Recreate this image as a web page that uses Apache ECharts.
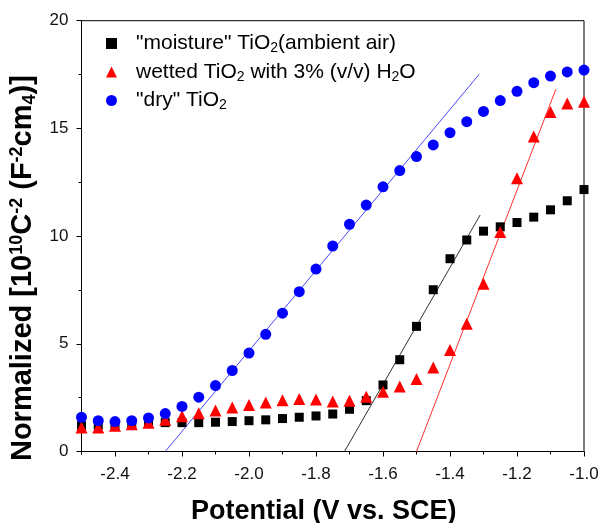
<!DOCTYPE html>
<html>
<head>
<meta charset="utf-8">
<script src="https://cdn.jsdelivr.net/npm/echarts@6/dist/echarts.min.js"></script>
<style>
  html, body { margin: 0; padding: 0; background: #fff; }
  #chart { width: 601px; height: 523px; }
</style>
</head>
<body>
<div id="chart"></div>
<script>
// potential (V vs. SCE)
var potential = [-2.50, -2.45, -2.40, -2.35, -2.30, -2.25, -2.20, -2.15, -2.10, -2.05, -2.00,
                 -1.95, -1.90, -1.85, -1.80, -1.75, -1.70, -1.65, -1.60, -1.55, -1.50,
                 -1.45, -1.40, -1.35, -1.30, -1.25, -1.20, -1.15, -1.10, -1.05, -1.00];

// normalized 1/C^2 for each sample
var moisture = [1.20, 1.22, 1.25, 1.28, 1.31, 1.34, 1.34, 1.34, 1.36, 1.39, 1.43,
                1.47, 1.53, 1.59, 1.65, 1.74, 1.96, 2.36, 3.09, 4.26, 5.81,
                7.51, 8.95, 9.82, 10.23, 10.43, 10.63, 10.88, 11.22, 11.64, 12.16];
var wetted = [1.11, 1.12, 1.19, 1.26, 1.34, 1.47, 1.64, 1.78, 1.90, 2.04, 2.16,
              2.27, 2.38, 2.44, 2.41, 2.32, 2.36, 2.54, 2.77, 3.02, 3.37,
              3.90, 4.71, 5.93, 7.79, 10.19, 12.68, 14.62, 15.76, 16.16, 16.24];
var dry = [1.59, 1.43, 1.39, 1.43, 1.56, 1.76, 2.09, 2.52, 3.06, 3.76, 4.57,
           5.44, 6.42, 7.42, 8.47, 9.54, 10.55, 11.44, 12.29, 13.04, 13.69,
           14.23, 14.80, 15.31, 15.79, 16.29, 16.72, 17.12, 17.43, 17.62, 17.71];

// linear fits (end points)
var moistureFitX = [-1.715, -1.31];
var moistureFitY = [0, 10.98];
var wettedFitX = [-1.50, -1.084];
var wettedFitY = [0, 16.82];
var dryFitX = [-2.25, -1.313];
var dryFitY = [0, 17.51];

var xLabels = [-2.4, -2.2, -2.0, -1.8, -1.6, -1.4, -1.2, -1.0];
var xMinor = [-2.5, -2.3, -2.1, -1.9, -1.7, -1.5, -1.3, -1.1];

var font = 'Liberation Sans, Arial, sans-serif';

function pairs(xs, ys) {
    return xs.map(function (x, i) { return [x, ys[i]]; });
}

var legendNames = {
    moisture: '"moisture" TiO{sub|2}(ambient air)',
    wetted: 'wetted TiO{sub|2} with 3% (v/v) H{sub|2}O',
    dry: '"dry" TiO{sub|2}'
};

var chart = echarts.init(document.getElementById('chart'));

var option = {
    animation: false,
    backgroundColor: '#fff',
    textStyle: { fontFamily: font },
    grid: {
        left: 81.5, right: 17, top: 20.7, bottom: 71.5,
        outerBoundsMode: 'none', containLabel: false,
        show: true, borderColor: '#000', borderWidth: 1
    },
    legend: {
        orient: 'vertical',
        left: 101, top: 27,
        itemWidth: 11, itemHeight: 11, itemGap: 5,
        data: [
            { name: 'moisture', itemStyle: { opacity: 1 } },
            { name: 'wetted', itemStyle: { opacity: 1 } },
            { name: 'dry', itemStyle: { opacity: 1 } }
        ],
        formatter: function (n) { return legendNames[n]; },
        textStyle: {
            fontFamily: font, fontSize: 21, color: '#000', lineHeight: 23,
            padding: [0, 0, 0, 14],
            rich: { sub: { fontFamily: font, fontSize: 14, color: '#000', padding: [10, 0, 0, 0] } }
        }
    },
    xAxis: [{
        type: 'value', min: -2.5, max: -1.0,
        name: 'Potential (V vs. SCE)', nameLocation: 'middle', nameGap: 47,
        nameTextStyle: { fontFamily: font, fontSize: 27, fontWeight: 'bold', color: '#000', padding: [0, 18, 0, 0] },
        axisLine: { lineStyle: { color: '#000', width: 1 } },
        axisTick: { customValues: xLabels, length: 5, lineStyle: { color: '#000' } },
        axisLabel: {
            customValues: xLabels, fontSize: 17, color: '#111', margin: 14,
            formatter: function (v) { return v.toFixed(1); }
        },
        splitLine: { show: false }
    }, {
        type: 'value', min: -2.5, max: -1.0, position: 'bottom',
        axisLine: { show: false },
        axisTick: { customValues: xMinor, length: 3, lineStyle: { color: '#000' } },
        axisLabel: { show: false },
        splitLine: { show: false }
    }],
    yAxis: {
        type: 'value', min: 0, max: 20, interval: 5,
        name: 'Normalized [10{sup|10}C{sup|-2} (F{sup|-2}cm{sub|4})]',
        nameLocation: 'middle', nameGap: 34, nameRotate: 90,
        nameTextStyle: {
            fontFamily: font, fontSize: 29, fontWeight: 'bold', color: '#000',
            padding: [0, 64, 0, 0],
            rich: {
                sup: { fontFamily: font, fontSize: 18, fontWeight: 'bold', color: '#000', padding: [0, 0, 13, 0] },
                sub: { fontFamily: font, fontSize: 18, fontWeight: 'bold', color: '#000', padding: [13, 0, 0, 0] }
            }
        },
        axisLine: { show: true, lineStyle: { color: '#000', width: 1 } },
        axisTick: { show: true, length: 5, lineStyle: { color: '#000' } },
        minorTick: { show: true, splitNumber: 2, length: 3, lineStyle: { color: '#000' } },
        axisLabel: { fontSize: 17, color: '#111', margin: 13 },
        splitLine: { show: false }
    },
    series: [
        {
            name: 'moisture', type: 'scatter', symbol: 'rect', symbolSize: 9,
            itemStyle: { color: '#000', opacity: 1 }, data: pairs(potential, moisture), z: 3
        },
        {
            name: 'wetted', type: 'scatter', symbol: 'triangle', symbolSize: 12,
            itemStyle: { color: '#ff0000', opacity: 1 }, data: pairs(potential, wetted), z: 4
        },
        {
            name: 'dry', type: 'scatter', symbol: 'circle', symbolSize: 11,
            itemStyle: { color: '#0000ff', opacity: 1 }, data: pairs(potential, dry), z: 5
        },
        {
            name: 'moisture fit', type: 'line', showSymbol: false, silent: true,
            lineStyle: { color: '#333', width: 1 }, data: pairs(moistureFitX, moistureFitY), z: 2
        },
        {
            name: 'wetted fit', type: 'line', showSymbol: false, silent: true,
            lineStyle: { color: '#ff3030', width: 1 }, data: pairs(wettedFitX, wettedFitY), z: 2
        },
        {
            name: 'dry fit', type: 'line', showSymbol: false, silent: true,
            lineStyle: { color: '#4848ff', width: 1 }, data: pairs(dryFitX, dryFitY), z: 2
        }
    ]
};

option && chart.setOption(option);
</script>
</body>
</html>
